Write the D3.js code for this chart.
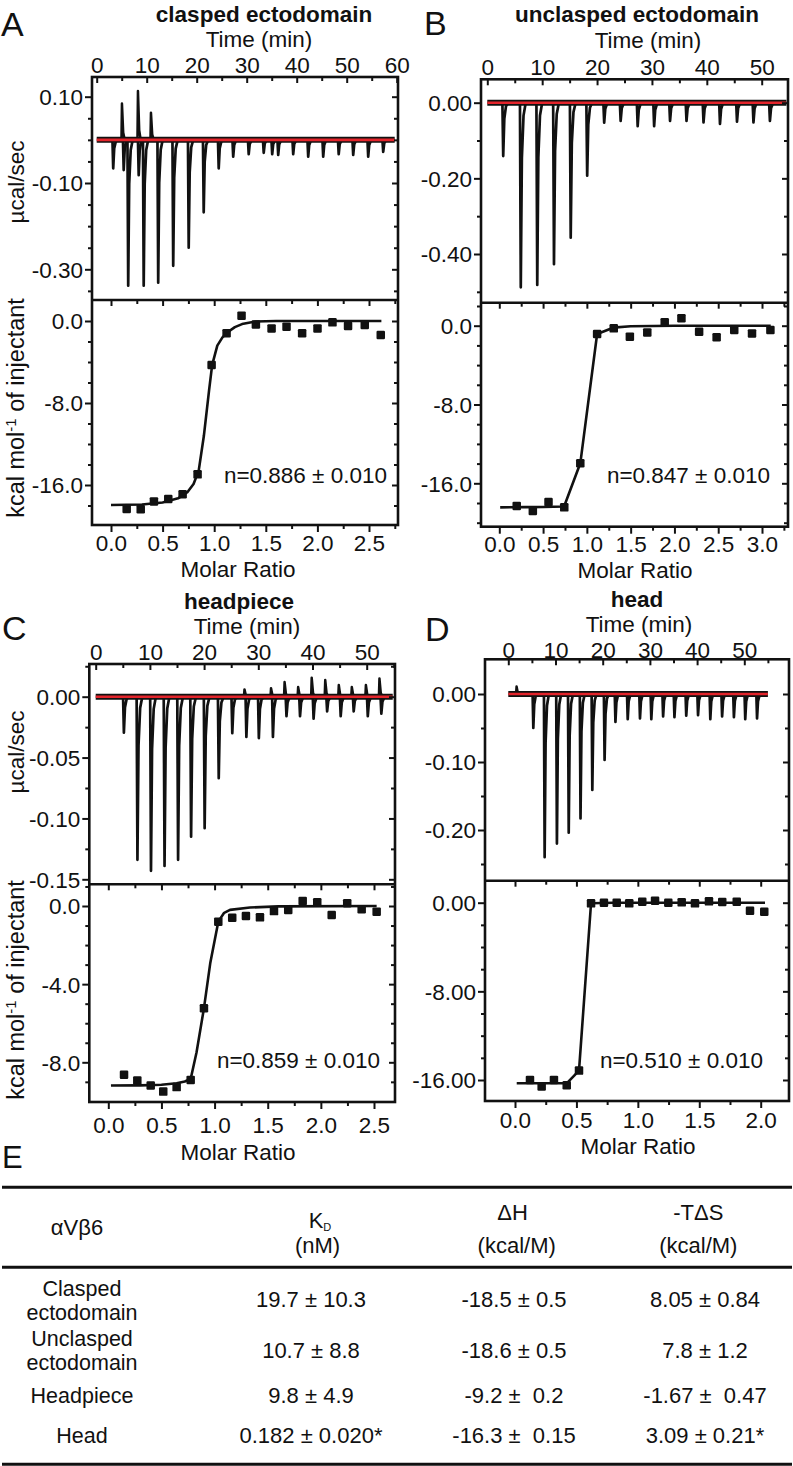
<!DOCTYPE html>
<html><head><meta charset="utf-8">
<script src="https://cdn.jsdelivr.net/npm/d3@7"></script>
<style>
html,body{margin:0;padding:0;background:#fff;}
svg{display:block;}
text{font-family:'Liberation Sans',Arial,Helvetica,sans-serif;fill:#111;}
</style></head><body>
<svg id="chart" width="793" height="1466"></svg>
<script>
// ---------------- DATA ----------------
// Panel A : clasped ectodomain
const A_timeLabels  = [0,10,20,30,40,50,60];
const A_powerLabels = [0.10,-0.10,-0.30];
const A_heatLabels  = [0,-8,-16];
const A_ratioLabels = [0,0.5,1.0,1.5,2.0,2.5];
const A_injTime = [3.2,5.3,6.2,8.3,9.3,12.2,15.2,18.3,21.3,24.3,27.2,30.3,33.3,35.0,36.2,39.2,42.2,45.2,48.3,51.2,54.2,57.2];
const A_injPeak = [-0.066,-0.070,-0.338,-0.082,-0.338,-0.331,-0.292,-0.250,-0.168,-0.066,-0.039,-0.033,-0.030,-0.033,-0.035,-0.033,-0.039,-0.039,-0.033,-0.035,-0.039,-0.028];
const A_spikeTime = [5.0,8.2,10.8];
const A_spikePeak = [0.084,0.113,0.063];
const A_ratio = [0.152,0.288,0.416,0.555,0.694,0.839,0.975,1.120,1.265,1.404,1.556,1.701,1.852,2.001,2.146,2.297,2.459,2.614];
const A_heat  = [-18.34,-18.37,-17.6,-17.37,-16.9,-14.96,-4.29,-1.2,0.52,-0.33,-0.72,-0.55,-1.2,-0.72,-0.13,-0.49,-0.39,-1.37];
const A_fitRatio = [0.0,0.3,0.5,0.65,0.74,0.8,0.85,0.9,0.95,0.98,1.03,1.08,1.13,1.2,1.27,1.4,1.6,2.62];
const A_fitHeat  = [-17.95,-17.9,-17.7,-17.3,-16.7,-15.9,-14.6,-11.2,-6.8,-4.3,-2.4,-1.6,-1.1,-0.6,-0.3,-0.05,0,0];

// Panel B : unclasped ectodomain
const B_timeLabels  = [0,10,20,30,40,50];
const B_powerLabels = [0.00,-0.20,-0.40];
const B_heatLabels  = [0,-8,-16];
const B_ratioLabels = [0,0.5,1.0,1.5,2.0,2.5,3.0];
const B_injTime = [2.8,6.0,9.0,12.05,15.1,18.1,21.2,24.2,27.3,30.3,33.2,36.2,39.3,42.3,45.4,48.4,51.4];
const B_injPeak = [-0.141,-0.488,-0.482,-0.427,-0.357,-0.193,-0.053,-0.048,-0.062,-0.062,-0.048,-0.048,-0.052,-0.056,-0.050,-0.052,-0.048];
const B_spikeTime = [];
const B_spikePeak = [];
const B_ratio = [0.199,0.383,0.562,0.742,0.925,1.117,1.307,1.491,1.690,1.889,2.080,2.282,2.482,2.683,2.886,3.096];
const B_heat  = [-18.3,-18.8,-17.9,-18.44,-13.97,-0.84,-0.27,-1.11,-0.68,0.34,0.75,-0.61,-1.18,-0.44,-0.78,-0.44];
const B_fitRatio = [0.01,0.3,0.5,0.74,0.925,1.117,1.3,1.5,2.0,3.1];
const B_fitHeat  = [-18.44,-18.42,-18.4,-18.35,-13.97,-0.84,-0.2,-0.05,0,0];

// Panel C : headpiece
const C_timeLabels  = [0,10,20,30,40,50];
const C_powerLabels = [0.00,-0.05,-0.10,-0.15];
const C_heatLabels  = [0,-4,-8];
const C_ratioLabels = [0,0.5,1.0,1.5,2.0,2.5];
const C_injTime = [5.1,7.6,10.1,12.6,15.1,17.5,20.0,22.6,25.1,27.7,30.0,32.6,35.1,37.6,40.1,42.6,45.1,47.5,50.1,52.6];
const C_injPeak = [-0.0296,-0.134,-0.143,-0.139,-0.134,-0.115,-0.108,-0.067,-0.030,-0.033,-0.034,-0.033,-0.016,-0.016,-0.018,-0.012,-0.016,-0.012,-0.016,-0.014];
const C_spikeTime = [27.4,32.3,34.8,37.3,39.8,42.3,44.8,47.2,49.8,52.3];
const C_spikePeak = [0.006,0.007,0.012,0.008,0.0156,0.0137,0.0096,0.008,0.0096,0.015];
const C_ratio = [0.148,0.273,0.399,0.517,0.643,0.775,0.900,1.035,1.166,1.295,1.427,1.559,1.693,1.829,1.966,2.102,2.248,2.384,2.525];
const C_heat  = [-8.64,-8.93,-9.19,-9.50,-9.27,-8.90,-5.23,-0.80,-0.60,-0.51,-0.58,-0.26,-0.20,0.26,0.19,-0.46,0.14,-0.17,-0.29];
const C_fitRatio = [0.025,0.3,0.5,0.643,0.72,0.775,0.83,0.9,0.96,1.035,1.09,1.145,1.333,1.6,2.525];
const C_fitHeat  = [-9.19,-9.18,-9.15,-9.07,-8.98,-8.85,-7.5,-5.23,-2.9,-0.8,-0.35,-0.2,-0.08,-0.02,0];

// Panel D : head
const D_timeLabels  = [0,10,20,30,40,50];
const D_powerLabels = [0.00,-0.10,-0.20];
const D_heatLabels  = [0,-8,-16];
const D_ratioLabels = [0,0.5,1.0,1.5,2.0];
const D_injTime = [5.2,7.6,10.2,12.7,15.2,17.7,20.3,22.6,25.2,27.8,30.2,32.7,35.1,37.6,40.1,42.7,45.2,47.7,50.1,52.6];
const D_injPeak = [-0.050,-0.240,-0.220,-0.204,-0.183,-0.141,-0.097,-0.041,-0.037,-0.036,-0.037,-0.033,-0.034,-0.032,-0.031,-0.037,-0.033,-0.034,-0.037,-0.036];
const D_spikeTime = [1.7];
const D_spikePeak = [0.011];
const D_ratio = [0.122,0.217,0.317,0.421,0.521,0.619,0.724,0.828,0.930,1.036,1.140,1.248,1.357,1.465,1.579,1.687,1.805,1.913,2.029];
const D_heat  = [-15.99,-16.59,-15.99,-16.47,-15.15,-0.06,0,0,-0.06,0.09,0.18,0,0.03,-0.06,0.12,0.06,0.09,-0.72,-0.81];
const D_fitRatio = [0.014,0.421,0.521,0.619,0.8,2.035];
const D_fitHeat  = [-16.29,-16.3,-15.15,-0.05,0,0];

// Panel titles and fit results
const panelLetters = ["A","B","C","D"];
const panelTitles  = ["clasped ectodomain","unclasped ectodomain","headpiece","head"];
const fitResults   = ["n=0.886 ± 0.010","n=0.847 ± 0.010","n=0.859 ± 0.010","n=0.510 ± 0.010"];

// Panel E : table
const tableHeader = ["αVβ6","K","(nM)","ΔH","(kcal/M)","-TΔS","(kcal/M)"];
const tableRows   = [["Clasped","ectodomain"],["Unclasped","ectodomain"],["Headpiece"],["Head"]];
const tableKD     = ["19.7 ± 10.3","10.7 ± 8.8","9.8 ± 4.9","0.182 ± 0.020*"];
const tableDH     = ["-18.5 ± 0.5","-18.6 ± 0.5","-9.2 ±  0.2","-16.3 ±  0.15"];
const tableTDS    = ["8.05 ± 0.84","7.8 ± 1.2","-1.67 ±  0.47","3.09 ± 0.21*"];

// ---------------- LAYOUT ----------------
const FS = 22.5;
const INK = "#111";
const RED = "#e3242b";
const layouts = {
  A:{x0:92,x1:398,y0:77,ym:300,y1:525, tCal:[0,96.7,60,396.7], pCal:[0.10,96.7,-0.30,269.3], hCal:[0,321,-16,485], mCal:[0,111,2.5,369],
     pStep:0.05, hStep:2, hFmt:1, tLab:72.7, timeTitle:[259,47.3], title:[264,22], letter:[1,36], mLab:551, molar:[238,577], n:[387,483],
     yTop:[24,182], yBot:[24,408], traceEnd:59.6},
  B:{x0:481,x1:788,y0:79.3,ym:302.7,y1:526.7, tCal:[0,487.3,50,761.7], pCal:[0,102.7,-0.4,254], hCal:[0,325.7,-16,483.3], mCal:[0,499.3,3,762],
     pStep:0.1, hStep:2, hFmt:1, tLab:75, timeTitle:[648,48], title:[637,22], letter:[424,35], mLab:552.5, molar:[635,578], n:[770,483],
     yTop:null, yBot:null, traceEnd:54.5},
  C:{x0:89.3,x1:395,y0:664,ym:884.3,y1:1102, tCal:[0,95.7,50,366.7], pCal:[0,696.7,-0.15,879.3], hCal:[0,906,-8,1062.3], mCal:[0,108.3,2.5,374],
     pStep:0.025, hStep:1, hFmt:1, tLab:659.5, timeTitle:[247,634], title:[239,608.5], letter:[2,640], mLab:1133, molar:[238,1160], n:[380,1068],
     yTop:[24,752], yBot:[24,990], traceEnd:54.8},
  D:{x0:485,x1:789,y0:659.3,ym:880.7,y1:1101, tCal:[0,508.3,50,744.3], pCal:[0,694,-0.2,830], hCal:[0,902.7,-16,1080], mCal:[0,515,2,760.7],
     pStep:0.05, hStep:2, hFmt:2, tLab:657.5, timeTitle:[639,632], title:[637,606.5], letter:[425,641], mLab:1127.5, molar:[638,1153.5], n:[763,1068],
     yTop:null, yBot:null, traceEnd:55}
};

const panelData = {
  A:{timeLabels:A_timeLabels,powerLabels:A_powerLabels,heatLabels:A_heatLabels,ratioLabels:A_ratioLabels,injTime:A_injTime,injPeak:A_injPeak,spikeTime:A_spikeTime,spikePeak:A_spikePeak,ratio:A_ratio,heat:A_heat,fitRatio:A_fitRatio,fitHeat:A_fitHeat},
  B:{timeLabels:B_timeLabels,powerLabels:B_powerLabels,heatLabels:B_heatLabels,ratioLabels:B_ratioLabels,injTime:B_injTime,injPeak:B_injPeak,spikeTime:B_spikeTime,spikePeak:B_spikePeak,ratio:B_ratio,heat:B_heat,fitRatio:B_fitRatio,fitHeat:B_fitHeat},
  C:{timeLabels:C_timeLabels,powerLabels:C_powerLabels,heatLabels:C_heatLabels,ratioLabels:C_ratioLabels,injTime:C_injTime,injPeak:C_injPeak,spikeTime:C_spikeTime,spikePeak:C_spikePeak,ratio:C_ratio,heat:C_heat,fitRatio:C_fitRatio,fitHeat:C_fitHeat},
  D:{timeLabels:D_timeLabels,powerLabels:D_powerLabels,heatLabels:D_heatLabels,ratioLabels:D_ratioLabels,injTime:D_injTime,injPeak:D_injPeak,spikeTime:D_spikeTime,spikePeak:D_spikePeak,ratio:D_ratio,heat:D_heat,fitRatio:D_fitRatio,fitHeat:D_fitHeat}
};

// ---------------- DRAW ----------------
const svg = d3.select("#chart");
const defs = svg.append("defs");
function cal(c){ return d3.scaleLinear().domain([c[0],c[2]]).range([c[1],c[3]]); }
function stepTicks(scale, step, pLo, pHi){
  const lo = Math.ceil(Math.min(scale.invert(pLo),scale.invert(pHi))/step - 1e-6);
  const hi = Math.floor(Math.max(scale.invert(pLo),scale.invert(pHi))/step + 1e-6);
  return d3.range(lo, hi+1).map(i => +(i*step).toFixed(6));
}
const isIn = (arr, d) => arr.some(l => Math.abs(l-d) < 1e-9);

function styleAxis(a, majors, dir, majLen, minLen){
  a.attr("font-size", FS).attr("font-family", null);
  a.select(".domain").remove();
  a.selectAll(".tick line").attr("stroke", INK).attr("stroke-width", 2)
    .attr(dir[0], d => dir[1]*(isIn(majors,d) ? majLen : minLen));
  a.selectAll(".tick text").attr("fill", INK);
  a.selectAll(".tick text").filter(function(){ return this.textContent === ""; }).remove();
}

function drawPanel(key, idx){
  const L = layouts[key], P = panelData[key];
  const xt = cal(L.tCal), yp = cal(L.pCal), yh = cal(L.hCal), xm = cal(L.mCal);
  const g = svg.append("g");

  defs.append("clipPath").attr("id","ct"+key).append("rect")
    .attr("x",L.x0).attr("y",L.y0).attr("width",L.x1-L.x0).attr("height",L.ym-L.y0);
  defs.append("clipPath").attr("id","cb"+key).append("rect")
    .attr("x",L.x0).attr("y",L.ym).attr("width",L.x1-L.x0).attr("height",L.y1-L.ym);

  // ---- thermogram
  const top = g.append("g").attr("clip-path",`url(#ct${key})`);
  const tl = d3.line().x(d=>xt(d[0])).y(d=>yp(d[1]));
  top.append("path").attr("d", tl([[0,0],[L.traceEnd,0]]))
    .attr("stroke",INK).attr("stroke-width",6).attr("fill","none");
  P.injTime.forEach((t,i)=>{
    const v = P.injPeak[i];
    top.append("path").attr("d", tl([[t-0.05,0],[t+0.1,v],[t+0.3,v*0.3],[t+0.6,v*0.07],[t+1.0,0]]))
      .attr("stroke",INK).attr("stroke-width",2.7).attr("fill","none")
      .attr("stroke-linejoin","round").attr("stroke-linecap","round");
  });
  P.spikeTime.forEach((t,i)=>{
    const u = P.spikePeak[i];
    top.append("path").attr("d", tl([[t-0.05,0],[t+0.05,u],[t+0.3,u*0.2],[t+0.6,0]]))
      .attr("stroke",INK).attr("stroke-width",2.5).attr("fill","none")
      .attr("stroke-linejoin","round").attr("stroke-linecap","round");
  });
  top.append("path").attr("d", tl([[0,0],[L.traceEnd,0]]))
    .attr("stroke",RED).attr("stroke-width",2.6).attr("fill","none");

  // ---- integrated heats
  const bot = g.append("g").attr("clip-path",`url(#cb${key})`);
  const hl = d3.line().x(d=>xm(d[0])).y(d=>yh(d[1]));
  bot.append("path").attr("d", hl(d3.zip(P.fitRatio,P.fitHeat)))
    .attr("stroke",INK).attr("stroke-width",2.6).attr("fill","none").attr("stroke-linejoin","round");
  const sq = 8.5;
  bot.selectAll("rect.pt").data(d3.zip(P.ratio,P.heat)).join("rect").attr("class","pt")
    .attr("x",d=>xm(d[0])-sq/2).attr("y",d=>yh(d[1])-sq/2).attr("width",sq).attr("height",sq)
    .attr("rx",1.2).attr("fill",INK);

  // ---- frame
  g.append("rect").attr("x",L.x0).attr("y",L.y0).attr("width",L.x1-L.x0).attr("height",L.y1-L.y0)
    .attr("fill","none").attr("stroke",INK).attr("stroke-width",2.6);
  g.append("line").attr("x1",L.x0).attr("x2",L.x1).attr("y1",L.ym).attr("y2",L.ym)
    .attr("stroke",INK).attr("stroke-width",2.6);

  // ---- axes
  const tTicks = stepTicks(xt, 5, L.x0+2, L.x1-1);
  const pTicks = stepTicks(yp, L.pStep, L.y0+2, L.ym-2);
  const hTicks = stepTicks(yh, L.hStep, L.ym+2, L.y1-2);
  const mTicks = stepTicks(xm, 0.25, L.x0+2, L.x1-2);
  const pf = d => d.toFixed(2), hf = d => d.toFixed(L.hFmt), mf = d => d.toFixed(1);

  const at = g.append("g").attr("transform",`translate(0,${L.y0})`)
    .call(d3.axisTop(xt).tickValues(tTicks).tickSize(6).tickFormat(d => isIn(P.timeLabels,d) ? String(d) : ""));
  styleAxis(at, P.timeLabels, ["y2",1], 6, 4);
  at.selectAll(".tick text").attr("y", L.tLab - L.y0).attr("dy", 0);

  const ap = g.append("g").attr("transform",`translate(${L.x0},0)`)
    .call(d3.axisLeft(yp).tickValues(pTicks).tickSize(7).tickPadding(2).tickFormat(d => isIn(P.powerLabels,d) ? pf(d) : ""));
  styleAxis(ap, P.powerLabels, ["x2",-1], 7, 4);
  ap.selectAll(".tick text").attr("dy","0.35em");
  const apr = g.append("g").attr("transform",`translate(${L.x1},0)`)
    .call(d3.axisLeft(yp).tickValues(pTicks).tickSize(6).tickFormat(""));
  styleAxis(apr, P.powerLabels, ["x2",-1], 6, 4);

  const ah = g.append("g").attr("transform",`translate(${L.x0},0)`)
    .call(d3.axisLeft(yh).tickValues(hTicks).tickSize(7).tickPadding(2).tickFormat(d => isIn(P.heatLabels,d) ? hf(d) : ""));
  styleAxis(ah, P.heatLabels, ["x2",-1], 7, 4);
  ah.selectAll(".tick text").attr("dy","0.35em");
  const ahr = g.append("g").attr("transform",`translate(${L.x1},0)`)
    .call(d3.axisLeft(yh).tickValues(hTicks).tickSize(6).tickFormat(""));
  styleAxis(ahr, P.heatLabels, ["x2",-1], 6, 4);

  const am = g.append("g").attr("transform",`translate(0,${L.y1})`)
    .call(d3.axisBottom(xm).tickValues(mTicks).tickSize(7).tickFormat(d => isIn(P.ratioLabels,d) ? mf(d) : ""));
  styleAxis(am, P.ratioLabels, ["y2",1], 7, 4);
  am.selectAll(".tick text").attr("y", L.mLab - L.y1).attr("dy", 0);
  const amt = g.append("g").attr("transform",`translate(0,${L.ym})`)
    .call(d3.axisBottom(xm).tickValues(mTicks).tickSize(6).tickFormat(""));
  styleAxis(amt, P.ratioLabels, ["y2",1], 6, 4);

  // ---- texts
  g.append("text").attr("x",L.letter[0]).attr("y",L.letter[1]).attr("font-size",34).text(panelLetters[idx]);
  g.append("text").attr("x",L.title[0]).attr("y",L.title[1]).attr("text-anchor","middle")
    .attr("font-size",FS).attr("font-weight","bold").text(panelTitles[idx]);
  g.append("text").attr("x",L.timeTitle[0]).attr("y",L.timeTitle[1]).attr("text-anchor","middle")
    .attr("font-size",FS).text("Time (min)");
  g.append("text").attr("x",L.molar[0]).attr("y",L.molar[1]).attr("text-anchor","middle")
    .attr("font-size",FS).text("Molar Ratio");
  g.append("text").attr("x",L.n[0]).attr("y",L.n[1]).attr("text-anchor","end")
    .attr("font-size",FS).text(fitResults[idx]);
  if (L.yTop){
    g.append("text").attr("transform",`translate(${L.yTop[0]},${L.yTop[1]}) rotate(-90)`)
      .attr("text-anchor","middle").attr("font-size",FS).text("µcal/sec");
  }
  if (L.yBot){
    const t = g.append("text").attr("transform",`translate(${L.yBot[0]},${L.yBot[1]}) rotate(-90)`)
      .attr("text-anchor","middle").attr("font-size",23.5);
    t.append("tspan").text("kcal mol");
    t.append("tspan").attr("font-size",15).attr("dy",-8).text("-1");
    t.append("tspan").attr("dy",8).text(" of injectant");
  }
}
["A","B","C","D"].forEach((k,i)=>drawPanel(k,i));

// ---------------- TABLE (E) ----------------
const T = {letter:[2,1168], rules:[1187.3,1267.3,1464.3], rx0:2, rx1:792,
  colX:[82,311,514,705], head1:1220, head2:1253, rowBase:[1306.7,1358.3,1403.3,1442.7],
  labelLines:[[1295.5,1320],[1345.5,1370],[1403.3],[1442.7]]};
const te = svg.append("g");
te.append("text").attr("x",T.letter[0]).attr("y",T.letter[1]).attr("font-size",31).text("E");
T.rules.forEach(y => te.append("line").attr("x1",T.rx0).attr("x2",T.rx1).attr("y1",y).attr("y2",y)
  .attr("stroke",INK).attr("stroke-width",3));
const ts = 22;
function tt(x,y,s,fs){ return te.append("text").attr("x",x).attr("y",y).attr("text-anchor","middle")
  .attr("font-size",fs||ts).style("white-space","pre").text(s); }
tt(77, 1235, tableHeader[0]);
const kd = te.append("text").attr("x",320).attr("y",1227.5).attr("text-anchor","middle").attr("font-size",ts);
kd.append("tspan").text(tableHeader[1]);
kd.append("tspan").attr("font-size",11).attr("dy",3).text("D");
tt(317.5, T.head2, tableHeader[2]);
tt(512.5, T.head1, tableHeader[3]);
tt(516.7, T.head2, tableHeader[4]);
tt(698.3, T.head1, tableHeader[5]);
tt(698.3, T.head2, tableHeader[6]);
tableRows.forEach((lines,i)=>{
  lines.forEach((s,j)=> tt(T.colX[0], T.labelLines[i][j], s, 21.5));
  tt(T.colX[1], T.rowBase[i], tableKD[i]);
  tt(T.colX[2], T.rowBase[i], tableDH[i]);
  tt(T.colX[3], T.rowBase[i], tableTDS[i]);
});
</script></body></html>
